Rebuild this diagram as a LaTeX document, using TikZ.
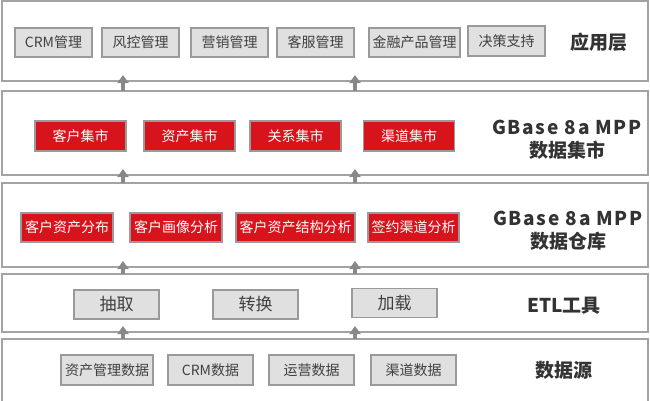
\documentclass[tikz,border=0pt]{standalone}
\usepackage{fontspec}
\setmainfont{Noto Sans CJK SC}
\usetikzlibrary{arrows.meta,calc}
\definecolor{laybd}{HTML}{A3A3A3}
\definecolor{itbd}{HTML}{9A9A9A}
\definecolor{itfill}{HTML}{E0E0E0}
\definecolor{itred}{HTML}{D7141B}
\definecolor{lbltxt}{HTML}{333333}
\definecolor{ittxt}{HTML}{404040}
\definecolor{arrgray}{HTML}{888888}
\tikzset{
  layer/.style={draw=laybd, line width=2pt, fill=white, rectangle, inner sep=0pt},
  gitem/.style={draw=itbd, line width=1.2pt, fill=itfill, rectangle, inner sep=0pt,
    minimum height=29pt, text=ittxt, font=\fontsize{14}{16}\selectfont},
  ritem/.style={draw=itbd, line width=1.2pt, fill=itred, rectangle, inner sep=0pt,
    minimum height=30pt, text=white, font=\fontsize{14}{16}\selectfont},
  eitem/.style={gitem, font=\fontsize{17}{19}\selectfont},
  lbl/.style={text=lbltxt, font=\bfseries\fontsize{19}{23}\selectfont, align=center, inner sep=0pt},
  uparrow/.style={draw=arrgray, line width=3.5pt, -{Triangle[width=11pt,length=8pt]}}
}
\begin{document}
\begin{tikzpicture}[x=1pt,y=-1pt]
\useasboundingbox (0,0) rectangle (650,400);
\clip (0,0) rectangle (650,400);
% layers
\node[layer, minimum width=646pt, minimum height=80pt] (L1) at (325,41) {};
\node[layer, minimum width=646pt, minimum height=84pt] (L2) at (325,133) {};
\node[layer, minimum width=646pt, minimum height=84pt] (L3) at (325,225) {};
\node[layer, minimum width=646pt, minimum height=58pt] (L4) at (325,303) {};
\node[layer, minimum width=646pt, minimum height=100pt] (L5) at (325,389) {};
% arrows
\coordinate (ax) at (123,0);
\coordinate (bx) at (355,0);
\foreach \lo/\hi in {L2/L1,L3/L2,L4/L3,L5/L4}{
  \draw[uparrow] ($(ax |- \lo.north)+(0,1)$) -- ($(ax |- \hi.south)+(0,-7)$);
  \draw[uparrow] ($(bx |- \lo.north)+(0,1)$) -- ($(bx |- \hi.south)+(0,-7)$);
}
% layer 1
\node[gitem, minimum width=77pt] (a1) at (53.5,42.5) {CRM管理};
\node[gitem, minimum width=77pt] (a2) at (140.5,42.5) {风控管理};
\node[gitem, minimum width=77pt] (a3) at (229.5,42.5) {营销管理};
\node[gitem, minimum width=77pt] (a4) at (315.5,42.5) {客服管理};
\node[gitem, minimum width=91pt] (a5) at (414.5,42.5) {金融产品管理};
\node[gitem, minimum width=77pt, minimum height=30pt] (a6) at (506.5,41) {决策支持};
\node[lbl] (t1) at (599,42) {应用层};
% layer 2
\node[ritem, minimum width=91pt] (b1) at (80.5,136) {客户集市};
\node[ritem, minimum width=91pt] (b2) at (189.5,136) {资产集市};
\node[ritem, minimum width=91pt] (b3) at (295.5,136) {关系集市};
\node[ritem, minimum width=91pt] (b4) at (409,136) {渠道集市};
\node[lbl] (t2) at (567,139.5) {\addfontfeatures{LetterSpace=9}GBase 8a MPP\\数据集市};
% layer 3
\node[ritem, minimum width=92pt, minimum height=29pt] (c1) at (67,227.5) {客户资产分布};
\node[ritem, minimum width=92pt, minimum height=29pt] (c2) at (176,227.5) {客户画像分析};
\node[ritem, minimum width=119pt, minimum height=29pt] (c3) at (295.5,227.5) {客户资产结构分析};
\node[ritem, minimum width=91pt, minimum height=29pt] (c4) at (413.5,227.5) {签约渠道分析};
\node[lbl] (t3) at (568,230.5) {\addfontfeatures{LetterSpace=9}GBase 8a MPP\\数据仓库};
% layer 4
\node[eitem, minimum width=85pt] (d1) at (116.5,304.5) {抽取};
\node[eitem, minimum width=85pt] (d2) at (255.5,304.5) {转换};
\node[eitem, minimum width=85pt] (d3) at (394.5,303) {加载};
\node[lbl] (t4) at (564,306) {ETL工具};
% layer 5
\node[gitem, minimum width=92pt, minimum height=30pt] (e1) at (107,370) {资产管理数据};
\node[gitem, minimum width=85pt, minimum height=30pt] (e2) at (210.5,370) {CRM数据};
\node[gitem, minimum width=85pt, minimum height=30pt] (e3) at (311.5,370) {运营数据};
\node[gitem, minimum width=85pt, minimum height=30pt] (e4) at (413.5,370) {渠道数据};
\node[lbl] (t5) at (564,370) {数据源};
\end{tikzpicture}
\end{document}
